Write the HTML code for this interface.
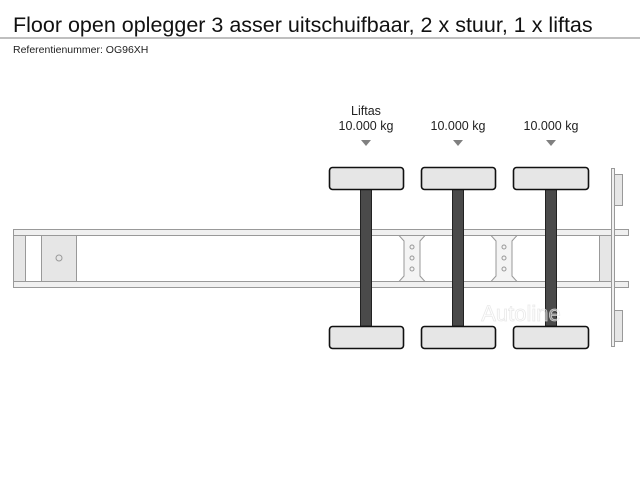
<!DOCTYPE html>
<html><head><meta charset="utf-8"><style>
body{margin:0;width:640px;height:480px;background:#fff;overflow:hidden;font-family:"Liberation Sans",sans-serif;}
</style></head><body>
<svg width="640" height="480" xmlns="http://www.w3.org/2000/svg" font-family="Liberation Sans, sans-serif">
<text x="13" y="32" font-size="21.5" fill="#111">Floor open oplegger 3 asser uitschuifbaar, 2 x stuur, 1 x liftas</text>
<line x1="0" y1="38" x2="640" y2="38" stroke="#999" stroke-width="1.2"/>
<text x="13" y="53" font-size="10.5" fill="#222">Referentienummer: OG96XH</text>
<g font-size="12.5" fill="#222" text-anchor="middle">
<text x="366" y="115">Liftas</text>
<text x="366" y="130">10.000 kg</text>
<text x="458" y="130">10.000 kg</text>
<text x="551" y="130">10.000 kg</text>
</g>
<g fill="#808080">
<polygon points="361,140 371,140 366,146"/>
<polygon points="453,140 463,140 458,146"/>
<polygon points="546,140 556,140 551,146"/>
</g>
<g stroke="#999" stroke-width="1">
<rect x="13.5" y="229.5" width="615" height="6" fill="#f0f0f0"/>
<rect x="13.5" y="281.5" width="615" height="6" fill="#f0f0f0"/>
<rect x="13.5" y="235.5" width="12" height="46" fill="#e6e6e6"/>
<rect x="25.5" y="235.5" width="16" height="46" fill="#fff"/>
<rect x="41.5" y="235.5" width="35" height="46" fill="#e6e6e6"/>
<circle cx="59" cy="258" r="3" fill="none"/>
<rect x="599.5" y="235.5" width="13" height="46" fill="#e6e6e6"/>
<rect x="611.5" y="168.5" width="3" height="178" fill="#f0f0f0"/>
<rect x="614.5" y="174.5" width="8" height="31" fill="#e6e6e6"/>
<rect x="614.5" y="310.5" width="8" height="31" fill="#e6e6e6"/>
<polygon points="399,235.5 425,235.5 420,241 420,276 425,281.5 399,281.5 404,276 404,241" fill="#f4f4f4"/>
<polygon points="491,235.5 517,235.5 512,241 512,276 517,281.5 491,281.5 496,276 496,241" fill="#f4f4f4"/>
<g fill="none"><circle cx="412" cy="247" r="2"/><circle cx="412" cy="258" r="2"/><circle cx="412" cy="269" r="2"/>
<circle cx="504" cy="247" r="2"/><circle cx="504" cy="258" r="2"/><circle cx="504" cy="269" r="2"/></g>
</g>
<g fill="#4a4a4a" stroke="#222" stroke-width="1">
<rect x="360.5" y="189" width="11" height="137"/>
<rect x="452.5" y="189" width="11" height="137"/>
<rect x="545.5" y="189" width="11" height="137"/>
</g>
<g fill="#e6e6e6" stroke="#111" stroke-width="1.6">
<rect x="329.5" y="167.5" width="74" height="22" rx="3"/>
<rect x="421.5" y="167.5" width="74" height="22" rx="3"/>
<rect x="513.5" y="167.5" width="75" height="22" rx="3"/>
<rect x="329.5" y="326.5" width="74" height="22" rx="3"/>
<rect x="421.5" y="326.5" width="74" height="22" rx="3"/>
<rect x="513.5" y="326.5" width="75" height="22" rx="3"/>
</g>
<text x="521" y="321" font-size="22" fill="#fff" fill-opacity="0.35" stroke="#e4e4e4" stroke-width="0.8" stroke-opacity="0.8" text-anchor="middle">Autoline</text>
</svg>
</body></html>
